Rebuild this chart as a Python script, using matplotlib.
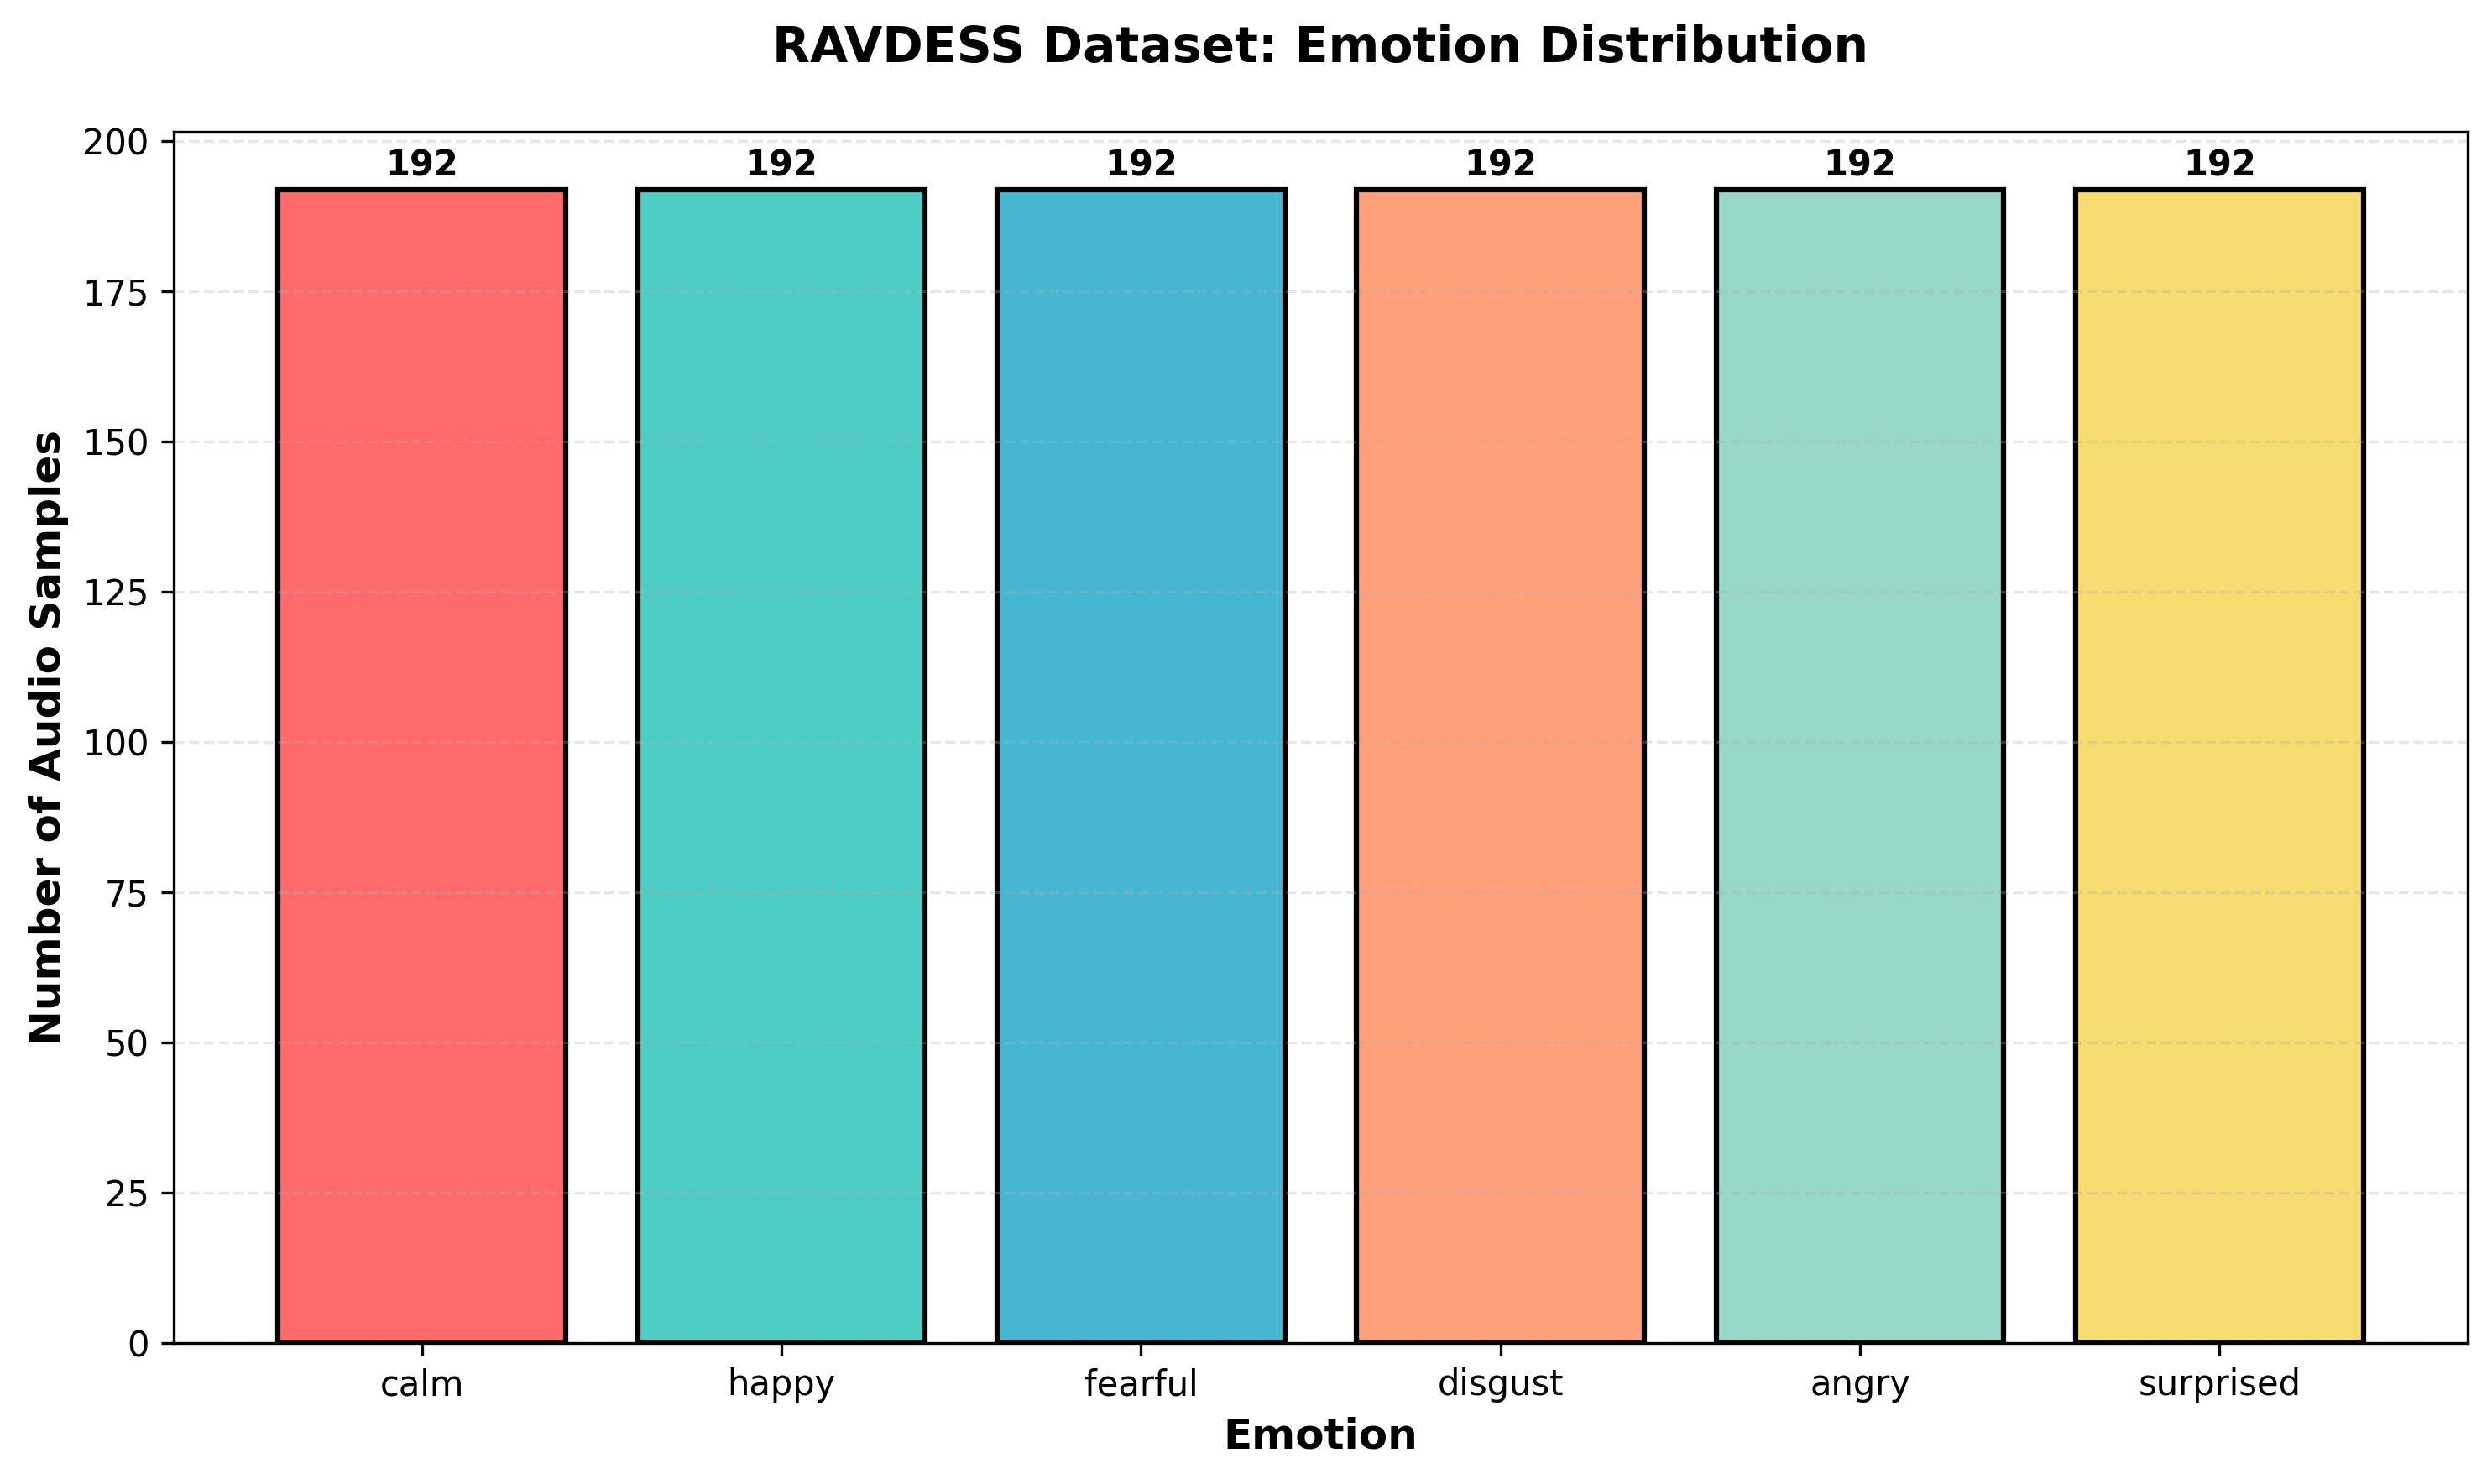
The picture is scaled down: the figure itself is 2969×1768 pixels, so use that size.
import matplotlib
matplotlib.use("Agg")
import matplotlib.pyplot as plt

emotions = ["calm", "happy", "fearful", "disgust", "angry", "surprised"]
counts = [192, 192, 192, 192, 192, 192]
colors = ["#FF6B6B", "#4ECDC4", "#45B7D1", "#FFA07A", "#98D8C8", "#F7DC6F"]

fig, ax = plt.subplots(figsize=(2969 / 300, 1768 / 300), dpi=300)
fig.subplots_adjust(left=207 / 2969, right=2940 / 2969, top=1 - 157 / 1768, bottom=1 - 1600 / 1768)

bars = ax.bar(emotions, counts, color=colors, edgecolor="black", linewidth=1.5)
for b, v in zip(bars, counts):
    ax.text(b.get_x() + b.get_width() / 2, b.get_height() + 1, str(v),
            ha="center", va="bottom", fontsize=10, fontweight="bold")

ax.set_title("RAVDESS Dataset: Emotion Distribution", fontsize=14, fontweight="bold", pad=20)
ax.set_xlabel("Emotion", fontsize=12, fontweight="bold")
ax.set_ylabel("Number of Audio Samples", fontsize=12, fontweight="bold")
ax.grid(axis="y", linestyle="--", alpha=0.3)

fig.savefig("out.png", dpi=300)
